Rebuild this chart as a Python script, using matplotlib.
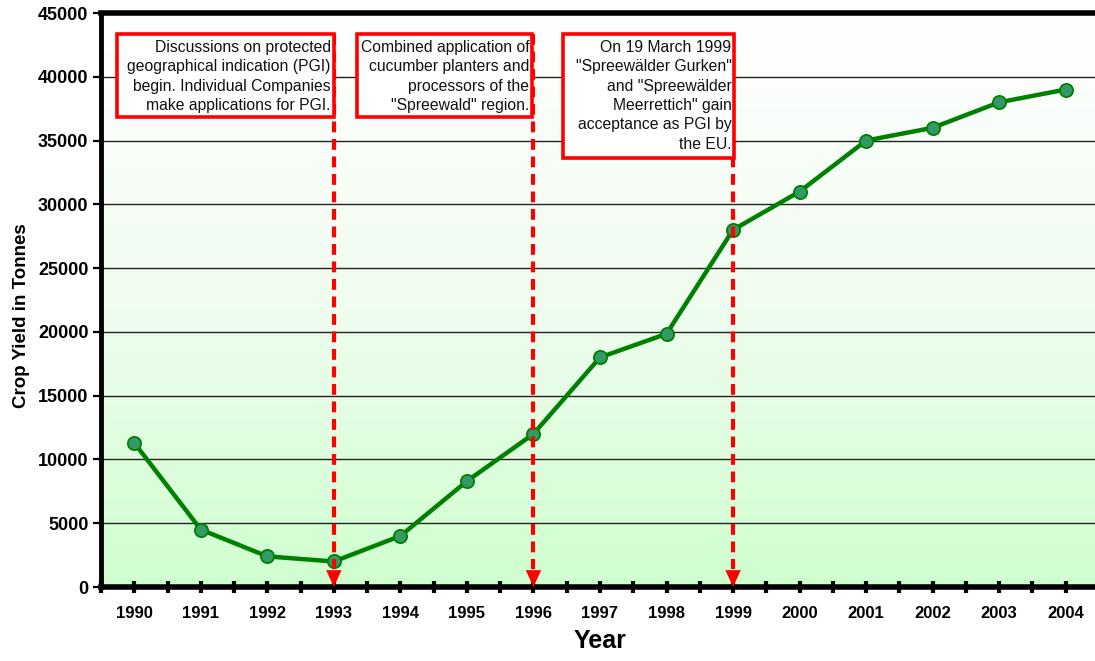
import numpy as np
import matplotlib
matplotlib.use("Agg")
import matplotlib.pyplot as plt
from matplotlib.colors import LinearSegmentedColormap
from matplotlib.patches import Rectangle
from matplotlib.ticker import FixedLocator

years = ["1990", "1991", "1992", "1993", "1994", "1995", "1996", "1997",
         "1998", "1999", "2000", "2001", "2002", "2003", "2004"]
crop_yield = [11300, 4500, 2400, 2000, 4000, 8300, 12000, 18000,
              19850, 28000, 31000, 35000, 36000, 38000, 39000]
y_ticks = [0, 5000, 10000, 15000, 20000, 25000, 30000, 35000, 40000, 45000]

event_years = ["1993", "1996", "1999"]
event_texts = [
    "Discussions on protected\ngeographical indication (PGI)\nbegin. Individual Companies\nmake applications for PGI.",
    "Combined application of\ncucumber planters and\nprocessors of the\n\"Spreewald\" region.",
    "On 19 March 1999\n\"Spreewälder Gurken\"\nand \"Spreewälder\nMeerrettich\" gain\nacceptance as PGI by\nthe EU.",
]

plt.rcParams['font.family'] = ['Liberation Sans', 'DejaVu Sans']

fig = plt.figure(figsize=(10.95, 6.61), dpi=100)
ax = fig.add_axes([101/1095, 74/661, 998/1095, 574/661])

n = len(years)
x = np.arange(n)
ax.set_xlim(-0.5, n - 0.5)
ax.set_ylim(y_ticks[0], y_ticks[-1])

# gradient background: white at top, light green at bottom
cmap = LinearSegmentedColormap.from_list("bg", ["#ffffff", "#f0fcf0", "#cfffcf"])
grad = np.linspace(0, 1, 256).reshape(-1, 1)
ax.imshow(grad, cmap=cmap, aspect='auto', extent=(-0.5, n - 0.5, 0, 45000),
          origin='upper', zorder=0, vmin=0, vmax=1)

ax.set_yticks(y_ticks)
ax.set_yticklabels([str(v) for v in y_ticks], fontsize=13, fontweight='bold')
ax.grid(axis='y', color='#222222', linewidth=1.0, zorder=1)
ax.set_axisbelow(True)

ax.plot(x, crop_yield, color='#008000', linewidth=3.2, marker='o',
        markersize=9.5, markerfacecolor='#339966', markeredgecolor='#008000',
        markeredgewidth=1.3, zorder=5)

# annotation boxes (box extents in data units)
boxes = [(-0.255, 3.0, 36830, 43340), (3.35, 5.98, 36830, 43340),
         (6.44, 9.02, 33620, 43340)]
for yr, txt, (x0, x1, y0, y1) in zip(event_years, event_texts, boxes):
    xi = years.index(yr)
    ax.plot([xi, xi], [y1, 1400], color='#ff0000', linewidth=3,
            linestyle=(0, (2.6, 1.6)), zorder=6, dash_capstyle='butt')
    ax.annotate('', xy=(xi, 0), xytext=(xi, 1300),
                arrowprops=dict(arrowstyle='-|>,head_length=1.2,head_width=0.55',
                                color='#ff0000', lw=0.1, shrinkA=0, shrinkB=0),
                zorder=7)
    ax.add_patch(Rectangle((x0, y0), x1 - x0, y1 - y0, facecolor='white',
                           edgecolor='#ff0000', linewidth=2.6, zorder=8))
    ax.text(x1 - 0.045, y1 - 450, txt, ha='right', va='top', fontsize=11.3,
            linespacing=1.36, zorder=9, color='#111111')

# axes styling
ax.set_xticks(x)
ax.set_xticklabels(years, fontsize=12, fontweight='bold')
ax.xaxis.set_minor_locator(FixedLocator(np.arange(-0.5, n, 1.0)))
ax.tick_params(axis='x', which='both', direction='inout', length=9, width=3,
               color='black', pad=9)
ax.tick_params(axis='y', direction='out', length=6, width=1.6, pad=3)

ax.spines['bottom'].set_linewidth(4)
ax.spines['top'].set_linewidth(4)
ax.spines['left'].set_linewidth(3.5)
ax.spines['right'].set_visible(False)

ax.set_ylabel("Crop Yield in Tonnes", fontsize=13.5, fontweight='bold')
ax.yaxis.set_label_coords(-0.0715, 0.472)
ax.set_xlabel("Year", fontsize=18, fontweight='bold', labelpad=6)

fig.savefig("out.png", dpi=100)
